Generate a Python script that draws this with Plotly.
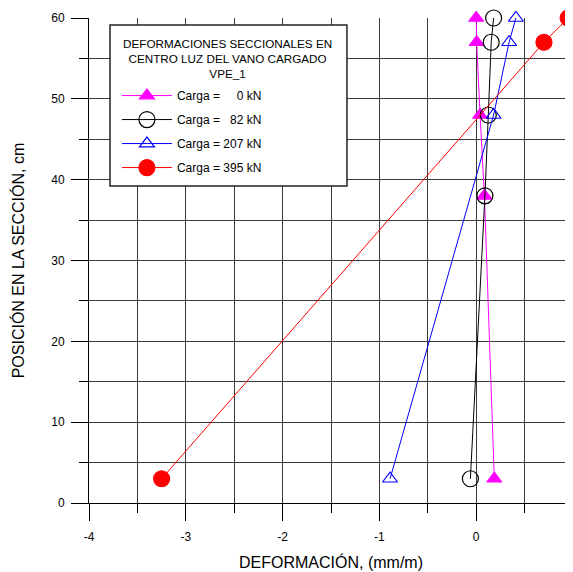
import plotly.graph_objects as go

# Data
pos_0 = [60, 57, 48, 38, 3]
def_0 = [0.0, 0.005, 0.04, 0.085, 0.187]

pos_82 = [60, 57, 48, 38, 3]
def_82 = [0.18, 0.155, 0.125, 0.09, -0.06]

pos_207 = [60, 57, 48, 3]
def_207 = [0.41, 0.34, 0.18, -0.89]

pos_395 = [60, 57, 3]
def_395 = [0.95, 0.70, -3.25]

x_tickvals = [-4, -3, -2, -1, 0, 1]
x_ticktext = ["-4", "-3", "-2", "-1", "0", "1"]

legend_names = ["Carga = \u2007\u20070 kN", "Carga = \u200782 kN",
                "Carga = 207 kN", "Carga = 395 kN"]
legend_title = "DEFORMACIONES SECCIONALES EN<br>CENTRO LUZ DEL VANO CARGADO<br>VPE_1"
x_title = "DEFORMACIÓN, (mm/m)"
y_title = "POSICIÓN EN LA SECCIÓN, cm"

fig = go.Figure()
series = [
    (def_0, pos_0, "#FF00FF", "triangle-up", 13),
    (def_82, pos_82, "#000000", "circle-open", 16),
    (def_207, pos_207, "#0000FF", "triangle-up-open", 13),
    (def_395, pos_395, "#FF0000", "circle", 16),
]
for i, (x, y, c, sym, sz) in enumerate(series):
    fig.add_trace(go.Scatter(
        x=x, y=y, mode="lines+markers", name=legend_names[i],
        legendgroup=f"g{i}",
        line=dict(color=c, width=1),
        marker=dict(symbol=sym, size=sz, color=c, line=dict(color=c, width=1.2)),
        cliponaxis=False,
    ))

font = "Liberation Sans, Arial, sans-serif"
grid = "#3a3a3a"
fig.update_layout(
    width=565, height=564,
    margin=dict(l=81, r=0, t=10, b=69),
    paper_bgcolor="white", plot_bgcolor="white",
    font=dict(family=font, size=12, color="black"),
    showlegend=True,
    legend=dict(
        x=0.0577, y=0.870, xanchor="left", yanchor="top",
        bgcolor="rgba(0,0,0,0)", borderwidth=0,
        font=dict(size=12),
        itemwidth=50,
        tracegroupgap=5,
    ),
    xaxis=dict(
        range=[-4, 1], tickmode="array", tickvals=x_tickvals, ticktext=x_ticktext,
        automargin=False,
        ticks="outside", ticklen=17, tickcolor="black", tickwidth=1,
        showline=True, linecolor="black", linewidth=1,
        showgrid=True, gridcolor=grid, gridwidth=1,
        zeroline=False,
        ticklabelstandoff=6,
        minor=dict(tick0=0, dtick=0.5, ticks="outside", ticklen=9, tickcolor="black",
                   showgrid=True, gridcolor=grid, gridwidth=1),
        tickfont=dict(size=12),
    ),
    yaxis=dict(
        range=[0, 60], dtick=10, tick0=0, automargin=False,
        ticks="outside", ticklen=17, tickcolor="black", tickwidth=1,
        showline=True, linecolor="black", linewidth=1,
        showgrid=True, gridcolor=grid, gridwidth=1,
        zeroline=False,
        ticklabelstandoff=4,
        minor=dict(dtick=5, ticks="outside", ticklen=9, tickcolor="black",
                   showgrid=True, gridcolor=grid, gridwidth=1),
        tickfont=dict(size=12),
    ),
    shapes=[
        dict(type="rect", xref="paper", yref="paper",
             x0=0.0434, x1=0.533, y0=0.6536, y1=0.9856,
             fillcolor="white", line=dict(color="#222222", width=1.5),
             layer="above"),
    ],
    annotations=[
        dict(text=legend_title, xref="paper", yref="paper", x=0.287, y=0.965,
             xanchor="center", yanchor="top", showarrow=False, align="center",
             font=dict(size=11.7, family=font)),
        dict(text=x_title, xref="paper", yref="paper", x=0.5, y=-0.1216,
             xanchor="center", yanchor="middle", showarrow=False,
             font=dict(size=16, family=font)),
        dict(text=y_title, xref="paper", yref="paper", x=-0.147, y=0.5,
             xanchor="center", yanchor="middle", showarrow=False, textangle=-90,
             font=dict(size=16, family=font)),
    ],
)

fig.write_html("out.html")
